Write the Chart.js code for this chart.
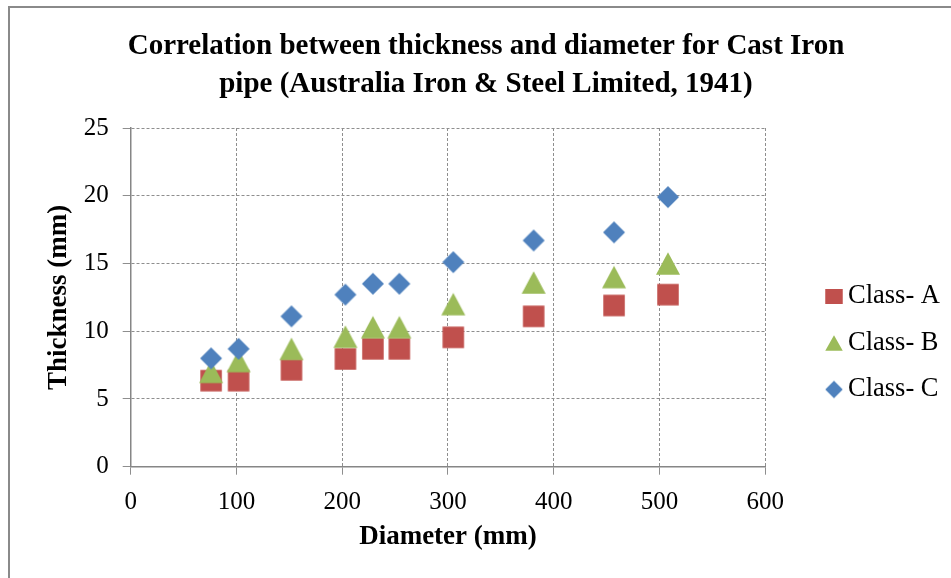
<!DOCTYPE html>
<html lang="en">
<head>
  <meta charset="UTF-8">
  <title>Cast Iron pipe thickness vs diameter</title>
  <style>
    body {
      margin: 0;
      background: #fff;
    }
    #frame {
      position: absolute;
      left: 8px;
      top: 6px;
      width: 960px;
      height: 600px;
      border-left: 2px solid #8a8a8a;
      border-top: 2px solid #8a8a8a;
    }
    #wrap {
      position: absolute;
      left: 0;
      top: 0;
      width: 951px;
      height: 578px;
    }
  </style>
</head>
<body>
  <div id="frame"></div>
  <div id="wrap"><canvas id="chart" width="951" height="578"></canvas></div>

  <script src="https://cdn.jsdelivr.net/npm/chart.js"></script>
  <script>
    // pipe diameters (mm) and wall thickness (mm) per class
    const diameter = [76, 102, 152, 203, 229, 254, 305, 381, 457, 508];
    const classA = [6.35, 6.35, 7.15, 7.95, 8.7, 8.7, 9.55, 11.1, 11.9, 12.7];
    const classB = [7.0, 7.8, 8.7, 9.6, 10.3, 10.3, 12.0, 13.6, 14.0, 15.0];
    const classC = [8.0, 8.7, 11.1, 12.7, 13.5, 13.5, 15.1, 16.7, 17.3, 19.9];
    const seriesNames = ['Class- A', 'Class- B', 'Class- C'];
    const xTicks = [0, 100, 200, 300, 400, 500, 600];
    const yTicks = [0, 5, 10, 15, 20, 25];

    const serif = "'Liberation Serif', 'Times New Roman', serif";

    // Excel-like markers drawn into small canvases (centred on their box)
    function marker(shape, color, w, h, shift) {
      const c = document.createElement('canvas');
      c.width = Math.ceil(w + 2 * Math.abs(shift) + 2);
      c.height = Math.ceil(h + 2);
      const ctx = c.getContext('2d');
      const cx = c.width / 2 + shift;
      const cy = c.height / 2;
      ctx.fillStyle = color;
      ctx.beginPath();
      if (shape === 'square') {
        ctx.rect(cx - w / 2, cy - h / 2, w, h);
      } else if (shape === 'triangle') {
        ctx.moveTo(cx, cy - h / 2);
        ctx.lineTo(cx + w / 2, cy + h / 2);
        ctx.lineTo(cx - w / 2, cy + h / 2);
      } else {
        ctx.moveTo(cx, cy - h / 2);
        ctx.lineTo(cx + w / 2, cy);
        ctx.lineTo(cx, cy + h / 2);
        ctx.lineTo(cx - w / 2, cy);
      }
      ctx.closePath();
      ctx.fill();
      return c;
    }

    const red = '#C0504D';
    const green = '#9BBB59';
    const blue = '#4F81BD';

    const plotMarkers = [
      marker('square', red, 21.5, 21.5, 0),
      marker('triangle', green, 24, 22.5, 0),
      marker('diamond', blue, 22, 22, 0)
    ];
    const legendMarkers = [
      marker('square', red, 17.5, 15, 24),
      marker('triangle', green, 17.5, 15.5, 24),
      marker('diamond', blue, 17.5, 17.5, 24)
    ];

    function points(ys) {
      return diameter.map((d, i) => ({ x: d, y: ys[i] }));
    }

    const gridColor = '#8e8e8e';
    const axisColor = '#868686';
    const padLeft = 22;

    new Chart(document.getElementById('chart').getContext('2d'), {
      type: 'scatter',
      data: {
        datasets: [
          { label: seriesNames[0], data: points(classA), pointStyle: plotMarkers[0], pointRadius: 11, order: 3 },
          { label: seriesNames[1], data: points(classB), pointStyle: plotMarkers[1], pointRadius: 11, order: 2 },
          { label: seriesNames[2], data: points(classC), pointStyle: plotMarkers[2], pointRadius: 11, order: 1 }
        ]
      },
      options: {
        responsive: false,
        animation: false,
        events: [],
        layout: {
          padding: { left: padLeft, right: 1, top: 0, bottom: 0 }
        },
        plugins: {
          title: {
            display: true,
            text: ['Correlation between thickness and diameter for Cast Iron',
                   'pipe (Australia Iron & Steel Limited, 1941)'],
            color: '#000',
            font: { family: serif, size: 29, weight: 'bold', lineHeight: '38px' },
            padding: { top: 28, bottom: 24 }
          },
          legend: {
            position: 'right',
            title: {
              display: true,
              text: '',
              padding: 0,
              font: { size: 10, lineHeight: '108px' }
            },
            labels: {
              usePointStyle: true,
              pointStyleWidth: 49.5,
              padding: 20,
              color: '#000',
              font: { family: serif, size: 26.5 },
              sort: (a, b) => a.datasetIndex - b.datasetIndex,
              generateLabels(chart) {
                const items = Chart.defaults.plugins.legend.labels.generateLabels(chart);
                items.forEach(it => { it.pointStyle = legendMarkers[it.datasetIndex]; });
                return items;
              }
            }
          },
          tooltip: { enabled: false }
        },
        scales: {
          x: {
            type: 'linear',
            min: xTicks[0],
            max: xTicks[xTicks.length - 1],
            afterFit(scale) { scale.height = 111.3; },
            afterBuildTicks(scale) { scale.ticks = xTicks.map(v => ({ value: v })); },
            ticks: {
              color: '#000',
              padding: 12.5,
              font: { family: serif, size: 25 },
              maxRotation: 0
            },
            grid: { color: gridColor, tickLength: 8, lineWidth: 1 },
            border: { color: axisColor, width: 1.5, dash: [3, 2] },
            title: {
              display: true,
              text: 'Diameter (mm)',
              color: '#000',
              font: { family: serif, size: 27, weight: 'bold' },
              padding: { top: 0, bottom: 25 }
            }
          },
          y: {
            type: 'linear',
            min: yTicks[0],
            max: yTicks[yTicks.length - 1],
            afterFit(scale) { scale.width = 130.7 - padLeft; },
            afterBuildTicks(scale) { scale.ticks = yTicks.map(v => ({ value: v })); },
            ticks: {
              color: '#000',
              padding: 14,
              font: { family: serif, size: 25 }
            },
            grid: { color: gridColor, tickLength: 8, lineWidth: 1 },
            border: { color: axisColor, width: 1.5, dash: [3, 2] },
            title: {
              display: true,
              text: 'Thickness (mm)',
              color: '#000',
              font: { family: serif, size: 27, weight: 'bold' },
              padding: { top: 59 - 16.2 - padLeft, bottom: 0 }
            }
          }
        }
      }
    });
  </script>
</body>
</html>
